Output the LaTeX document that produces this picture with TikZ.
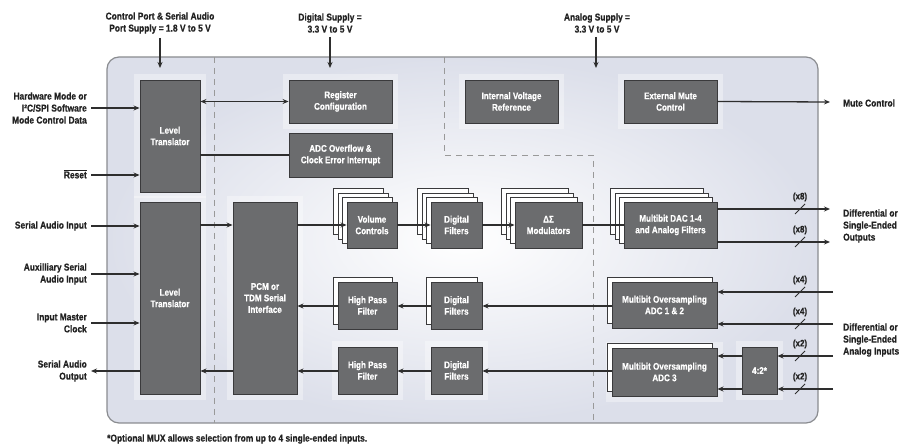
\documentclass[tikz,border=0pt]{standalone}
\usepackage{fontspec}
\setmainfont{Liberation Sans}[FakeStretch=0.84,BoldFeatures={FakeBold=0.6}]
\usetikzlibrary{arrows.meta,calc}
\definecolor{boxgray}{HTML}{6B6C6E}
\definecolor{boxedge}{HTML}{3A3A3C}
\definecolor{wirec}{HTML}{2E2E2E}
\definecolor{panel}{HTML}{DCDFEA}
\definecolor{panelborder}{HTML}{8A8C90}
\definecolor{txt}{HTML}{222222}
\newcommand\Blk[6]{\node[blk,minimum width={#4pt-#2pt},minimum height={#5pt-#3pt}] (#1) at ({(#2+#4)/2},{(#3+#5)/2}) {#6};}
\newcommand\Halo[4]{\fill[white,opacity=0.35] ({#1-6},{#2-6}) rectangle ({#3+6},{#4+6});}
\newcommand\Stack[5]{\foreach \k in {#1,...,1} {\draw[fill=white,draw=boxedge,line width=0.7pt] ({#2-4.5*\k},{#3-4.5*\k}) rectangle ({#4-4.5*\k},{#5-4.5*\k});}}
\newcommand\Bus[2]{\draw[wirec,line width=1pt] (795,{#1+5}) -- (805,{#1-5}); \node[lbl,font=\bfseries\fontsize{9.5}{10}\selectfont] at (800,{#1-12}) {#2};}
\begin{document}
\begin{tikzpicture}[x=1pt,y=-1pt,
 blk/.style={draw=boxedge,line width=0.9pt,fill=boxgray,text=white,font=\bfseries\fontsize{9.6}{11.5}\selectfont,align=center,inner sep=0pt},
 lbl/.style={font=\bfseries\fontsize{10}{12}\selectfont,text=txt,inner sep=0pt},
 wire/.style={draw=wirec,line width=1.3pt},
 arr/.style={wire,-{Stealth[length=6pt,width=5pt]}},
 darr/.style={wire,{Stealth[length=6pt,width=5pt]}-{Stealth[length=6pt,width=5pt]}},
 dsh/.style={draw=black!40,line width=0.8pt,dash pattern=on 6pt off 5pt}
]
\useasboundingbox (0,0) rectangle (911,446);
% panel
\shade[rounded corners=12pt,inner color=white,outer color=panel] (107,57) rectangle (818,423);
\draw[panelborder,line width=1.2pt,rounded corners=12pt] (107,57) rectangle (818,423);
% dashed dividers
\draw[dsh] (214,57) -- (214,423);
\draw[dsh] (444,57) -- (444,155) -- (593,155) -- (593,423);
% halos
\Halo{140}{80}{200}{192}
\Halo{140}{202}{200}{394}
\Halo{233}{202}{297}{394}
\Halo{289}{80}{392}{123}
\Halo{465}{80}{558}{123}
\Halo{624}{80}{717}{123}
\Halo{338}{347}{397}{394}
\Halo{431}{347}{482}{394}
\Halo{612}{348}{717}{396}
\Halo{742}{347}{777}{394}
% stacks
\Stack{3}{347}{202}{397}{248}
\Stack{3}{431}{202}{482}{248}
\Stack{3}{515}{202}{582}{248}
\Stack{3}{624}{202}{717}{248}
\Stack{1}{338}{282}{397}{329}
\Stack{1}{431}{282}{482}{329}
\Stack{1}{612}{282}{717}{328}
\Stack{1}{612}{348}{717}{396}
% blocks
\Blk{lta}{140}{80}{200}{192}{Level\\Translator}
\Blk{ltb}{140}{202}{200}{394}{Level\\Translator}
\Blk{pcm}{233}{202}{297}{394}{PCM or\\TDM Serial\\Interface}
\Blk{reg}{289}{80}{392}{123}{Register\\Configuration}
\Blk{ovf}{289}{133}{392}{177}{ADC Overflow \&\\Clock Error Interrupt}
\Blk{ivr}{465}{80}{558}{123}{Internal Voltage\\Reference}
\Blk{emc}{624}{80}{717}{123}{External Mute\\Control}
\Blk{vol}{347}{202}{397}{248}{Volume\\Controls}
\Blk{dfa}{431}{202}{482}{248}{Digital\\Filters}
\Blk{dsm}{515}{202}{582}{248}{ΔΣ\\Modulators}
\Blk{dac}{624}{202}{717}{248}{Multibit DAC 1-4\\and Analog Filters}
\Blk{hpa}{338}{282}{397}{329}{High Pass\\Filter}
\Blk{dfb}{431}{282}{482}{329}{Digital\\Filters}
\Blk{adca}{612}{282}{717}{328}{Multibit Oversampling\\ADC 1 \& 2}
\Blk{hpb}{338}{347}{397}{394}{High Pass\\Filter}
\Blk{dfc}{431}{347}{482}{394}{Digital\\Filters}
\Blk{adcb}{612}{348}{717}{396}{Multibit Oversampling\\ADC 3}
\Blk{mux}{742}{347}{777}{394}{4:2*}
% top labels
\node[lbl,align=center] (cps) at (160,23) {Control Port \& Serial Audio\\Port Supply = 1.8 V to 5 V};
\node[lbl,align=center] (dsp) at (330,23) {Digital Supply =\\3.3 V to 5 V};
\node[lbl,align=center] (asp) at (597,23) {Analog Supply =\\3.3 V to 5 V};
\coordinate (cpsin) at (160,68);
\coordinate (dspin) at (330,68);
\coordinate (aspin) at (596,68);
\draw[arr,shorten <=4pt] (cps.south) -- (cpsin);
\draw[arr,shorten <=4pt] (dsp.south) -- (dspin);
\draw[arr,shorten <=4pt] (asp.south -| aspin) -- (aspin);
% left labels
\node[lbl,align=right,anchor=east] (hw) at (87,108) {Hardware Mode or\\I²C/SPI Software\\Mode Control Data};
\node[lbl,anchor=east] (rst) at (87,174) {$\overline{\hbox{Reset}}$};
\node[lbl,anchor=east] (sai) at (87,226) {Serial Audio Input};
\node[lbl,align=right,anchor=east] (aux) at (87,274) {Auxilliary Serial\\Audio Input};
\node[lbl,align=right,anchor=east] (imc) at (87,323) {Input Master\\Clock};
\node[lbl,align=right,anchor=east] (sao) at (87,371) {Serial Audio\\Output};
\draw[arr,shorten <=4pt] (hw.east) -- (hw.east -| lta.west);
\draw[arr,shorten <=4pt] (rst.east) ++(0,1) -- (lta.west |- 0,175);
\draw[arr,shorten <=4pt] (sai.east) -- (sai.east -| ltb.west);
\draw[arr,shorten <=4pt] (aux.east) -- (aux.east -| ltb.west);
\draw[arr,shorten <=4pt] (imc.east) -- (imc.east -| ltb.west);
\draw[arr,shorten >=4pt] (sao.east -| ltb.west) -- (sao.east);
% row coordinates
\coordinate (r1) at (0,225);
\coordinate (r2) at (0,306);
\coordinate (r3) at (0,371);
% internal connectors
\draw[darr] (reg.west -| lta.east) -- (reg.west);
\draw[wire] (ovf.west -| lta.east) -- (ovf.west);
\draw[arr] (ltb.east |- r1) -- (pcm.west |- r1);
\draw[arr] (pcm.east |- r1) -- (vol.west |- r1);
\draw[arr] (vol.east |- r1) -- (dfa.west |- r1);
\draw[arr] (dfa.east |- r1) -- (dsm.west |- r1);
\draw[wire] (dsm.east |- r1) -- (dac.west |- r1);
\draw[arr] (adca.west |- r2) -- (dfb.east |- r2);
\draw[arr] (dfb.west |- r2) -- (hpa.east |- r2);
\draw[arr] (hpa.west |- r2) -- (pcm.east |- r2);
\draw[arr] (adcb.west |- r3) -- (dfc.east |- r3);
\draw[arr] (dfc.west |- r3) -- (hpb.east |- r3);
\draw[arr] (hpb.west |- r3) -- (pcm.east |- r3);
\draw[arr] (pcm.west |- r3) -- (ltb.east |- r3);
% right side
\node[lbl,anchor=west] (mute) at (843,103) {Mute Control};
\coordinate (muteend) at (830,102);
\draw[arr] (emc.east) -- (muteend);
\node[lbl,anchor=west,align=left] (dout) at (843,226) {Differential or\\Single-Ended\\Outputs};
\node[lbl,anchor=west,align=left] (din) at (843,340) {Differential or\\Single-Ended\\Analog Inputs};
\coordinate (o1) at (830,209);
\coordinate (o2) at (830,242);
\draw[arr] (o1 -| dac.east) -- (o1);
\draw[arr] (o2 -| dac.east) -- (o2);
\coordinate (i1) at (833,292);
\coordinate (i2) at (833,324);
\coordinate (i3) at (833,356);
\coordinate (i4) at (833,389);
\draw[arr] (i1) -- (i1 -| adca.east);
\draw[arr] (i2) -- (i2 -| adca.east);
\draw[arr] (i3) -- (i3 -| mux.east);
\draw[arr] (i4) -- (i4 -| mux.east);
\draw[arr] (i3 -| mux.west) -- (i3 -| adcb.east);
\draw[arr] (i4 -| mux.west) -- (i4 -| adcb.east);
\Bus{209}{(x8)}
\Bus{242}{(x8)}
\Bus{292}{(x4)}
\Bus{324}{(x4)}
\Bus{356}{(x2)}
\Bus{389}{(x2)}
% footnote
\node[lbl,anchor=west] (fn) at (107,439) {*Optional MUX allows selection from up to 4 single-ended inputs.};
\end{tikzpicture}
\end{document}
